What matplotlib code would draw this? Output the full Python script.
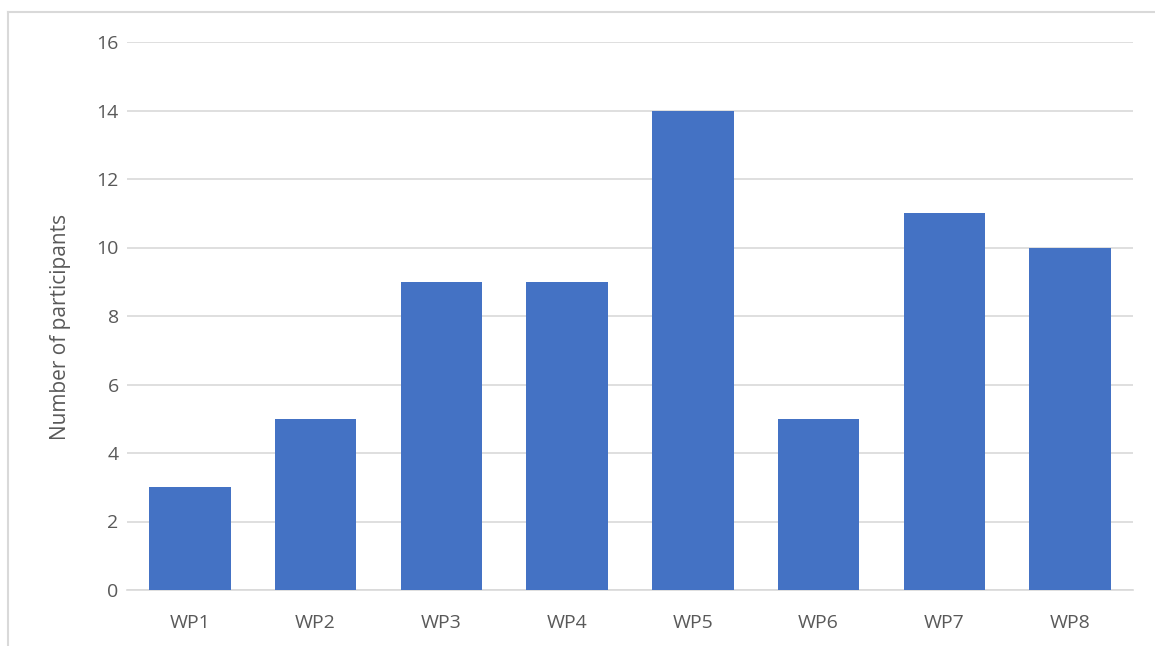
import matplotlib.pyplot as plt
from matplotlib.lines import Line2D

packages = ['WP1', 'WP2', 'WP3', 'WP4', 'WP5', 'WP6', 'WP7', 'WP8']
participants = [3, 5, 9, 9, 14, 5, 11, 10]
y_ticks = [0, 2, 4, 6, 8, 10, 12, 14, 16]

plt.rcParams['font.family'] = ['Open Sans', 'DejaVu Sans']
text_color = '#595959'
grid_color = '#D9D9D9'

fig = plt.figure(figsize=(11.55, 6.46), dpi=100)
W, H = 1155, 646
ax = fig.add_axes([127 / W, 1 - 590 / H, (1133 - 127) / W, (590 - 42) / H])

x = range(len(packages))
ax.bar(x, participants, width=0.65, color='#4472C4', zorder=3)

ax.set_xlim(-0.5, len(packages) - 0.5)
ax.set_ylim(0, 16)
ax.set_yticks(y_ticks)
ax.set_xticks(list(x))
ax.set_xticklabels(packages)
ax.yaxis.grid(True, color=grid_color, linewidth=1.2, zorder=0)
ax.tick_params(axis='both', length=0, labelsize=14, labelcolor=text_color)
ax.tick_params(axis='x', pad=17)
ax.tick_params(axis='y', pad=6)
for side in ['top', 'right', 'left']:
    ax.spines[side].set_visible(False)
ax.spines['bottom'].set_color(grid_color)
ax.spines['bottom'].set_linewidth(1.2)

ax.set_ylabel('Number of participants', fontsize=15, color=text_color)
ax.yaxis.set_label_coords(-0.056, 0.48)

# chart-area border
fig.add_artist(Line2D([8 / W, 8 / W], [0, 1 - 12 / H], color=grid_color, linewidth=1.5))
fig.add_artist(Line2D([8 / W, 1], [1 - 12 / H, 1 - 12 / H], color=grid_color, linewidth=1.5))

fig.savefig('out.png', dpi=100)
